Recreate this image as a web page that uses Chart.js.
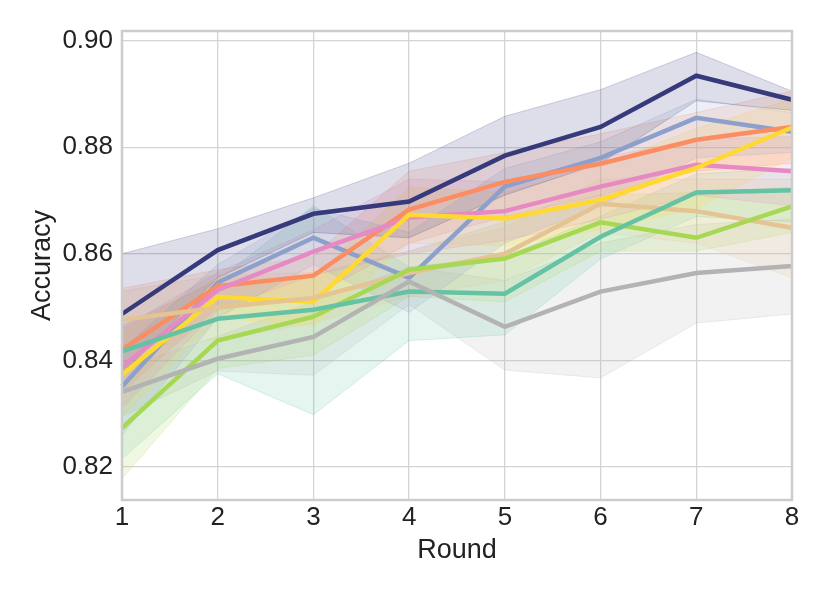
<!DOCTYPE html>
<html>
<head>
<meta charset="utf-8">
<script src="https://cdn.jsdelivr.net/npm/chart.js@4.4.1/dist/chart.umd.min.js"></script>
<style>
  html, body { margin: 0; padding: 0; background: #ffffff; }
  #wrap { width: 830px; height: 593px; }
</style>
</head>
<body>
<div id="wrap"><canvas id="myChart" width="830" height="593"></canvas></div>
<script>
// Data
const rounds = ["1", "2", "3", "4", "5", "6", "7", "8"];
const yTicks = [0.82, 0.84, 0.86, 0.88, 0.90];

const navyMean  = [0.8487, 0.8607, 0.8675, 0.8698, 0.8784, 0.8838, 0.8934, 0.8889];
const navyLow   = [0.8375, 0.8555, 0.8640, 0.8630, 0.8710, 0.8770, 0.8887, 0.8869];
const navyHigh  = [0.8600, 0.8647, 0.8705, 0.8770, 0.8858, 0.8908, 0.8978, 0.8905];

const blueMean  = [0.8351, 0.8546, 0.8630, 0.8555, 0.8726, 0.8780, 0.8855, 0.8829];
const blueLow   = [0.8260, 0.8480, 0.8580, 0.8490, 0.8620, 0.8690, 0.8780, 0.8790];
const blueHigh  = [0.8420, 0.8580, 0.8685, 0.8640, 0.8760, 0.8810, 0.8890, 0.8865];

const orangeMean = [0.8420, 0.8539, 0.8559, 0.8683, 0.8735, 0.8769, 0.8814, 0.8838];
const orangeLow  = [0.8340, 0.8500, 0.8520, 0.8620, 0.8670, 0.8710, 0.8755, 0.8770];
const orangeHigh = [0.8535, 0.8570, 0.8595, 0.8755, 0.8790, 0.8825, 0.8865, 0.8905];

const pinkMean  = [0.8388, 0.8532, 0.8604, 0.8668, 0.8680, 0.8726, 0.8767, 0.8755];
const pinkLow   = [0.8310, 0.8495, 0.8560, 0.8600, 0.8625, 0.8665, 0.8710, 0.8690];
const pinkHigh  = [0.8460, 0.8565, 0.8645, 0.8740, 0.8735, 0.8780, 0.8815, 0.8820];

const yellowMean = [0.8373, 0.8519, 0.8510, 0.8673, 0.8666, 0.8701, 0.8761, 0.8837];
const yellowLow  = [0.8295, 0.8480, 0.8465, 0.8620, 0.8615, 0.8645, 0.8685, 0.8780];
const yellowHigh = [0.8455, 0.8555, 0.8555, 0.8725, 0.8715, 0.8765, 0.8835, 0.8890];

const tanMean   = [0.8476, 0.8499, 0.8517, 0.8564, 0.8600, 0.8694, 0.8680, 0.8649];
const tanLow    = [0.8420, 0.8440, 0.8470, 0.8520, 0.8550, 0.8640, 0.8620, 0.8555];
const tanHigh   = [0.8530, 0.8560, 0.8565, 0.8605, 0.8650, 0.8740, 0.8740, 0.8740];

const greenMean = [0.8273, 0.8437, 0.8482, 0.8570, 0.8591, 0.8659, 0.8630, 0.8689];
const greenLow  = [0.8178, 0.8385, 0.8410, 0.8520, 0.8510, 0.8605, 0.8605, 0.8640];
const greenHigh = [0.8380, 0.8535, 0.8560, 0.8605, 0.8660, 0.8710, 0.8715, 0.8725];

const tealMean  = [0.8417, 0.8478, 0.8495, 0.8529, 0.8525, 0.8632, 0.8715, 0.8719];
const tealLow   = [0.8215, 0.8375, 0.8298, 0.8437, 0.8448, 0.8590, 0.8670, 0.8660];
const tealHigh  = [0.8465, 0.8550, 0.8690, 0.8575, 0.8595, 0.8670, 0.8750, 0.8760];

const grayMean  = [0.8341, 0.8403, 0.8444, 0.8548, 0.8463, 0.8529, 0.8564, 0.8577];
const grayLow   = [0.8295, 0.8380, 0.8372, 0.8505, 0.8382, 0.8367, 0.8470, 0.8487];
const grayHigh  = [0.8385, 0.8445, 0.8510, 0.8575, 0.8550, 0.8620, 0.8655, 0.8665];

// series: [rgb, mean, low, high]
const series = [
    ["54,58,122",   navyMean,   navyLow,   navyHigh],
    ["141,160,203", blueMean,   blueLow,   blueHigh],
    ["252,141,98",  orangeMean, orangeLow, orangeHigh],
    ["231,138,195", pinkMean,   pinkLow,   pinkHigh],
    ["255,217,47",  yellowMean, yellowLow, yellowHigh],
    ["229,196,148", tanMean,    tanLow,    tanHigh],
    ["166,216,84",  greenMean,  greenLow,  greenHigh],
    ["102,194,165", tealMean,   tealLow,   tealHigh],
    ["179,179,179", grayMean,   grayLow,   grayHigh]
];

// Build datasets: bands first (fill between low and high), then lines
let datasets = [];
series.forEach((s) => {
    let lowIndex = datasets.length;
    datasets.push({
        data: s[2],
        borderColor: "rgba(" + s[0] + ",0.22)",
        borderWidth: 1,
        pointRadius: 0,
        fill: false,
        tension: 0,
        order: 2
    });
    datasets.push({
        data: s[3],
        borderColor: "rgba(" + s[0] + ",0.22)",
        backgroundColor: "rgba(" + s[0] + ",0.17)",
        borderWidth: 1,
        pointRadius: 0,
        fill: lowIndex,
        tension: 0,
        order: 2
    });
});
series.slice().reverse().forEach((s) => {
    datasets.push({
        data: s[1],
        borderColor: "rgb(" + s[0] + ")",
        borderWidth: 4.5,
        pointRadius: 0,
        fill: false,
        tension: 0,
        order: 1
    });
});

// frame around the plot area
const framePlugin = {
    id: "frame",
    afterDraw(chart) {
        const {ctx, chartArea} = chart;
        ctx.save();
        ctx.strokeStyle = "#cccccc";
        ctx.lineWidth = 2.5;
        ctx.strokeRect(chartArea.left, chartArea.top,
            chartArea.right - chartArea.left, chartArea.bottom - chartArea.top);
        ctx.restore();
    }
};

Chart.defaults.font.family = "'Liberation Sans', Arial, sans-serif";
Chart.defaults.color = "#222222";

new Chart(document.getElementById("myChart"), {
    type: "line",
    data: { labels: rounds, datasets: datasets },
    options: {
        responsive: false,
        animation: false,
        layout: { padding: { left: 0, top: 31, right: 38, bottom: 0 } },
        plugins: { legend: { display: false }, tooltip: { enabled: false } },
        scales: {
            x: {
                offset: false,
                grid: { color: "#d4d4d4", lineWidth: 1.3, drawTicks: false },
                border: { display: false },
                ticks: { font: { size: 26 }, padding: 2, maxRotation: 0 },
                title: { display: true, text: "Round", font: { size: 27 }, padding: { top: 0, bottom: 26 } },
                afterFit: (scale) => { scale.height = 93; }
            },
            y: {
                min: 0.8138,
                max: 0.9018,
                grid: { color: "#d4d4d4", lineWidth: 1.3, drawTicks: false },
                border: { display: false },
                ticks: { font: { size: 26 }, padding: 9, callback: (v) => v.toFixed(2) },
                title: { display: true, text: "Accuracy", font: { size: 27 }, padding: { top: 26, bottom: 0 } },
                afterBuildTicks: (scale) => { scale.ticks = yTicks.map((v) => ({ value: v })); },
                afterFit: (scale) => { scale.width = 122; }
            }
        }
    },
    plugins: [framePlugin]
});
</script>
</body>
</html>
